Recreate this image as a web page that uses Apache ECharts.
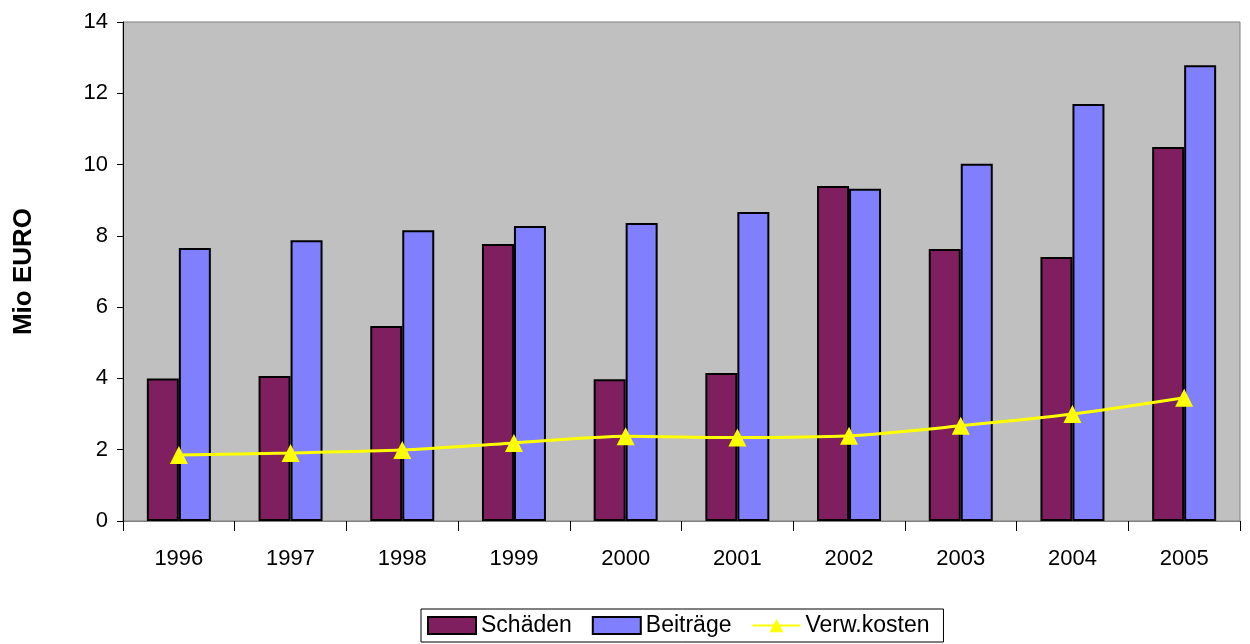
<!DOCTYPE html>
<html><head><meta charset="utf-8">
<script src="https://cdn.jsdelivr.net/npm/echarts@6/dist/echarts.min.js"></script>
<style>html,body{margin:0;padding:0;background:#fff}#c{width:1250px;height:644px}</style>
</head><body><div id="c"></div>
<script>
const years = ['1996','1997','1998','1999','2000','2001','2002','2003','2004','2005'];
const schaeden = [4.0, 4.07, 5.47, 7.77, 3.98, 4.15, 9.40, 7.63, 7.41, 10.49];
const beitraege = [7.66, 7.88, 8.16, 8.28, 8.36, 8.67, 9.32, 10.02, 11.70, 12.79];
const verwkosten = [1.85, 1.91, 1.99, 2.19, 2.38, 2.34, 2.39, 2.67, 3.0, 3.46];
const yTicks = [0, 2, 4, 6, 8, 10, 12, 14];

const chart = echarts.init(document.getElementById('c'));
const font = 'Liberation Sans, Arial, sans-serif';
chart.setOption({
  animation: false,
  textStyle: {fontFamily: font},
  grid: {left: 123, right: 10, top: 22, bottom: 123, show: true, backgroundColor: '#c0c0c0', borderColor: '#808080', borderWidth: 1},
  legend: {
    bottom: 2, left: 421,
    data: [
      {name: 'Schäden', icon: 'rect'},
      {name: 'Beiträge', icon: 'rect'},
      {name: 'Verw.kosten'}
    ],
    borderColor: '#000', borderWidth: 1, borderRadius: 0,
    padding: [5, 14, 5, 6], itemGap: 20, itemWidth: 48, itemHeight: 17,
    textStyle: {fontSize: 23, color: '#000', fontFamily: font}
  },
  xAxis: {
    type: 'category', data: years,
    axisLine: {lineStyle: {color: '#808080', width: 1}},
    axisTick: {show: true, alignWithLabel: false, length: 10, inside: false, lineStyle: {color: '#000'}},
    axisLabel: {fontSize: 22, color: '#000', margin: 27, fontFamily: font}
  },
  yAxis: {
    type: 'value', min: yTicks[0], max: yTicks[yTicks.length - 1], interval: 2,
    name: 'Mio EURO', nameLocation: 'middle', nameGap: 86,
    nameTextStyle: {fontSize: 26, fontWeight: 'bold', color: '#000', fontFamily: font},
    axisLine: {show: true, lineStyle: {color: '#000'}},
    axisTick: {show: true, length: 6, lineStyle: {color: '#000'}},
    splitLine: {show: false},
    axisLabel: {fontSize: 22, color: '#000', margin: 15, fontFamily: font}
  },
  series: [
    {name: 'Schäden', type: 'bar', data: schaeden, barWidth: 32, barGap: '0%',
     itemStyle: {color: '#7f1f5f', borderColor: '#000', borderWidth: 2}},
    {name: 'Beiträge', type: 'bar', data: beitraege, barWidth: 32, barGap: '0%',
     itemStyle: {color: '#8080ff', borderColor: '#000', borderWidth: 2}},
    {name: 'Verw.kosten', type: 'line', data: verwkosten, smooth: 0.25,
     symbol: 'triangle', symbolSize: 18,
     lineStyle: {color: '#ffff00', width: 3},
     itemStyle: {color: '#ffff00', borderWidth: 0}}
  ]
});
</script></body></html>
